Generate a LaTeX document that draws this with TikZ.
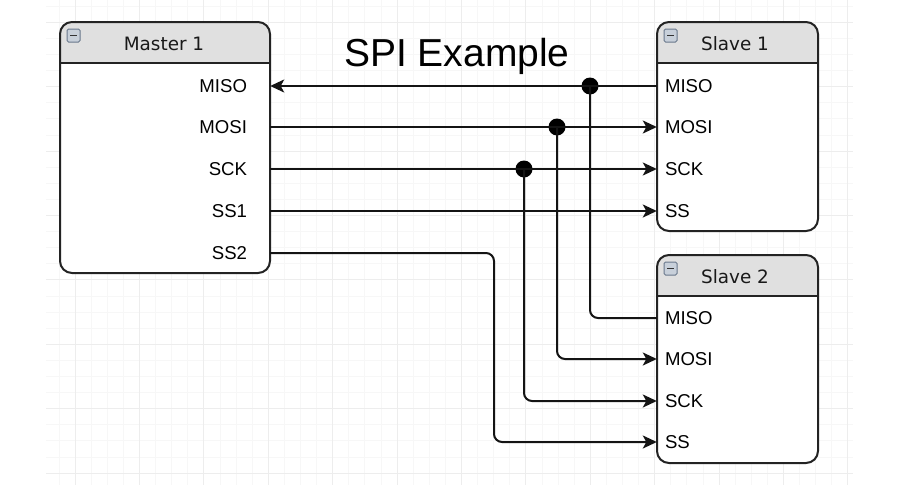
\documentclass[tikz,border=0pt]{standalone}
\usepackage{fontspec}
\usepackage{xcolor}
\usetikzlibrary{arrows.meta}
\newfontfamily\lblfont{Liberation Sans}
\newfontfamily\hdrfont{DejaVu Sans}
\definecolor{hdrgray}{RGB}{224,224,224}
\definecolor{boxline}{RGB}{35,35,35}
\definecolor{gridminor}{RGB}{247,247,247}
\definecolor{gridmajor}{RGB}{237,237,237}
\definecolor{iconfill}{RGB}{200,208,218}
\definecolor{iconline}{RGB}{105,120,140}

\tikzset{
  wire/.style={line width=2pt, draw=black!92, rounded corners=8pt},
  arr/.style={-{Stealth[length=14pt,width=13pt,inset=3.5pt]}},
  jdot/.style={circle, fill=black, inner sep=0pt, minimum size=17pt},
  rowlbl/.style={inner ysep=0pt, minimum height=40pt, font=\lblfont\fontsize{18.6}{22}\selectfont},
  mrow/.style={rowlbl, inner xsep=23pt, text width=164pt, align=right},
  srow/.style={rowlbl, inner xsep=8pt, text width=145pt, align=left},
  hdr/.style={font=\hdrfont\fontsize{18.4}{22}\selectfont, text=black!90}
}

\begin{document}
\begin{tikzpicture}[x=1pt,y=-1pt]

\useasboundingbox (0,0) rectangle (900,485);

% Grid
\foreach \k in {-1,...,48} {
    \draw[gridminor, line width=0.8pt] ({75+16.1*\k},0) -- ({75+16.1*\k},485);
}
\foreach \k in {0,...,29} {
    \draw[gridminor, line width=0.8pt] (46,{473-16.1*\k}) -- (853,{473-16.1*\k});
}
\foreach \k in {0,...,12} {
    \draw[gridmajor, line width=0.8pt] ({75+64.4*\k},0) -- ({75+64.4*\k},485);
}
\foreach \k in {0,...,7} {
    \draw[gridmajor, line width=0.8pt] (46,{473-64.4*\k}) -- (853,{473-64.4*\k});
}

% Boxes
\foreach \xa/\ya/\xb/\yb in {60/22/270/273, 657/22/818/231, 657/255/818/463} {
    \fill[white, rounded corners=12pt] (\xa,\ya) rectangle (\xb,\yb);
    \begin{scope}
        \clip (\xa,\ya) rectangle (\xb,\ya+41);
        \fill[hdrgray, rounded corners=12pt] (\xa,\ya) rectangle (\xb,\yb);
    \end{scope}
    \draw[boxline, line width=2pt, rounded corners=12pt] (\xa,\ya) rectangle (\xb,\yb);
    \draw[boxline, line width=2pt] (\xa,\ya+41) -- (\xb,\ya+41);
    % collapse icon
    \draw[iconline, fill=iconfill, line width=1pt, rounded corners=1.5pt] (\xa+7,\ya+7) rectangle (\xa+20,\ya+20);
    \draw[black!80, line width=1.6pt] (\xa+10,\ya+13.5) -- (\xa+17,\ya+13.5);
}

% Title
\node[font=\lblfont\fontsize{39}{45}\selectfont, anchor=base] (title) at (457,66) {SPI Example};

% Headers
\node[hdr] (master) at (164,44) {Master 1};
\node[hdr] (slave1) at (735,44) {Slave 1};
\node[hdr] (slave2) at (735,277) {Slave 2};

% Rows
\foreach \name/\lbl/\y in {miso/MISO/86, mosi/MOSI/127, sck/SCK/169, ss1/SS1/211, ss2/SS2/253} {
    \node[mrow] (m-\name) at (165,\y) {\lbl};
}
\foreach \name/\lbl/\y in {miso/MISO/86, mosi/MOSI/127, sck/SCK/169, ss/SS/211} {
    \node[srow] (s1-\name) at (737.5,\y) {\lbl};
}
\foreach \name/\lbl/\y in {miso/MISO/318, mosi/MOSI/359, sck/SCK/401, ss/SS/442} {
    \node[srow] (s2-\name) at (737.5,\y) {\lbl};
}

% Junctions
\node[jdot] (j-miso) at (590,86) {};
\node[jdot] (j-mosi) at (557,127) {};
\node[jdot] (j-sck) at (524,169) {};
\coordinate (ss2-bend) at (494,253);

% Wires to slave 1
\draw[wire, arr] (s1-miso.west) -- (m-miso.east);
\draw[wire, arr] (m-mosi.east) -- (s1-mosi.west);
\draw[wire, arr] (m-sck.east) -- (s1-sck.west);
\draw[wire, arr] (m-ss1.east) -- (s1-ss.west);

% Wires to slave 2
\draw[wire] (j-miso.center) |- (s2-miso.west);
\draw[wire, arr] (j-mosi.center) |- (s2-mosi.west);
\draw[wire, arr] (j-sck.center) |- (s2-sck.west);
\draw[wire, arr] (m-ss2.east) -- (ss2-bend) |- (s2-ss.west);

\end{tikzpicture}
\end{document}
